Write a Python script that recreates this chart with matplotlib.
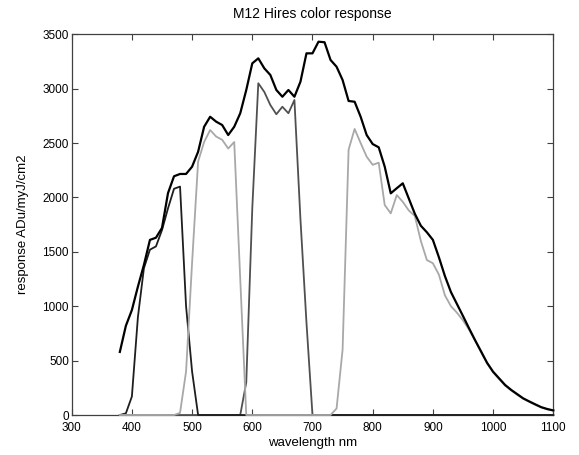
import numpy as np
import matplotlib
matplotlib.use("Agg")
import matplotlib.pyplot as plt

plt.rcParams['font.family'] = ['Liberation Sans', 'DejaVu Sans']

wavelength = list(range(380, 1101, 10))

total = [580, 820, 965, 1180, 1380, 1610, 1630, 1720, 2040, 2195,
         2216, 2216, 2283, 2420, 2650, 2742, 2697, 2666, 2574, 2650,
         2774, 2988, 3233, 3279, 3187, 3126, 2988, 2926, 2988, 2926,
         3064, 3325, 3325, 3432, 3427, 3264, 3202, 3080, 2887, 2880,
         2742, 2574, 2491, 2461, 2283, 2038, 2085, 2130, 1990, 1850,
         1740, 1680, 1610, 1450, 1277, 1130, 1020, 910, 798, 689,
         585, 480, 398, 337, 276, 231, 192, 153, 125, 98,
         72, 55, 42]

blue = [0, 15, 170, 900, 1350, 1520, 1550, 1700, 1900, 2080,
        2100, 1000, 400, 0] + [0] * 59

green = ([0] * 10 + [20, 400, 1400, 2330, 2510, 2620, 2560, 2530, 2450, 2510,
                     1250, 0] + [0] * 14 +
         [60, 600, 2440, 2630, 2500, 2375, 2300, 2320, 1930, 1854,
          2022, 1960, 1880, 1830, 1600, 1425, 1395, 1290, 1100, 1000,
          940, 870, 785, 685, 578, 475, 392, 330, 270, 226,
          186, 150, 121, 94, 70, 52, 41])

red = ([0] * 21 + [300, 1900, 3050, 2970, 2850, 2765, 2834, 2774, 2896,
                   1800, 850, 0] + [0] * 40)

fig = plt.figure(figsize=(5.79, 4.55), dpi=100)
ax = fig.add_axes([0.1238, 0.0879, 0.8318, 0.8367])

ax.plot(wavelength, red, color='#505050', lw=1.3, zorder=3, clip_on=False)
ax.plot(wavelength, blue, color='#1e1e1e', lw=1.3, zorder=3, clip_on=False)
ax.plot(wavelength, green, color='#a8a8a8', lw=1.3, zorder=3, clip_on=False)
ax.plot(wavelength, total, color='#000000', lw=1.6, zorder=4, clip_on=False)

ax.set_xlim(300, 1100)
ax.set_ylim(0, 3500)
ax.set_xticks(range(300, 1101, 100))
ax.set_yticks(range(0, 3501, 500))
ax.tick_params(direction='in', length=4, top=True, right=True,
               labelsize=8.5, color='#404040', width=0.8, pad=2)
ax.tick_params(axis='x', pad=5)
for s in ax.spines.values():
    s.set_color('#404040')
    s.set_linewidth(0.9)

ax.set_title('M12 Hires color response', fontsize=10, pad=12)
ax.set_xlabel('wavelength nm', fontsize=9.5, labelpad=2)
ax.set_ylabel('response ADu/myJ/cm2', fontsize=9.5, labelpad=10)

fig.savefig('out.png', dpi=100)
